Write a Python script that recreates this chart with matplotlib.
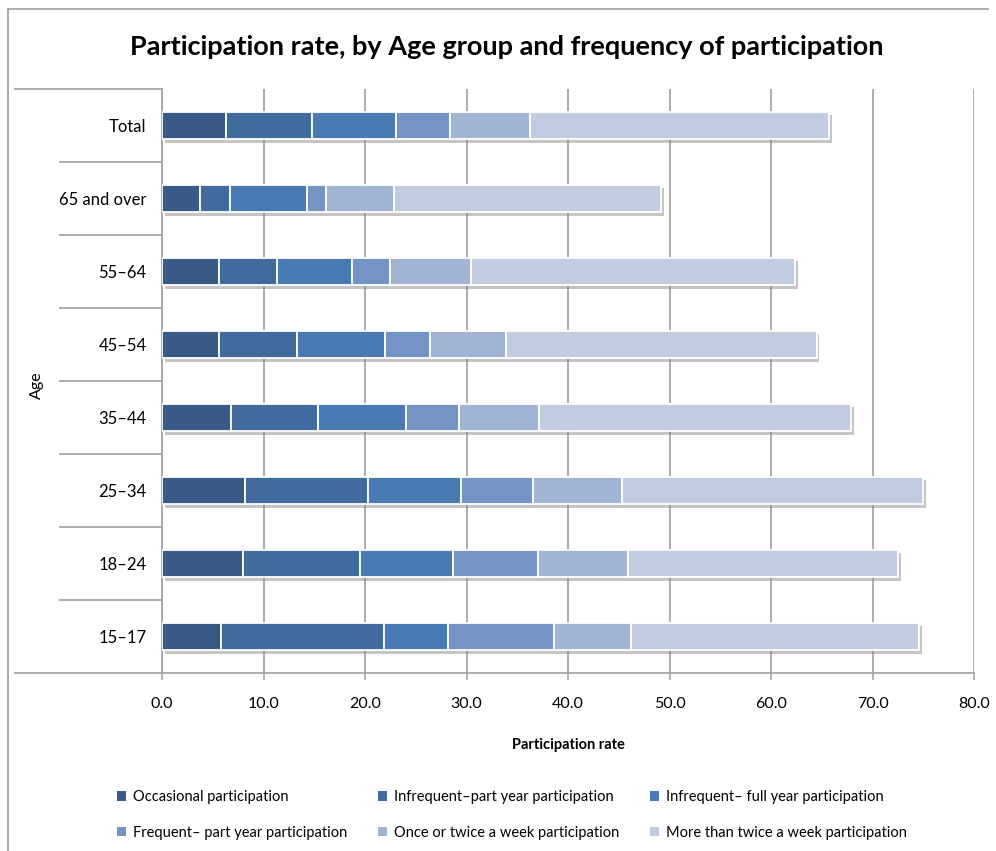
import matplotlib
matplotlib.use("Agg")
import matplotlib.pyplot as plt
import matplotlib.patheffects as pe
from matplotlib.lines import Line2D
from matplotlib.patches import Patch
import numpy as np

plt.rcParams['font.family'] = ['Lato', 'DejaVu Sans']

age_groups = ["Total", "65 and over", "55–64", "45–54", "35–44", "25–34", "18–24", "15–17"]

series_names = [
    "Occasional participation",
    "Infrequent–part year participation",
    "Infrequent– full year participation",
    "Frequent– part year participation",
    "Once or twice a week participation",
    "More than twice a week participation",
]

occasional = [6.3, 3.7, 5.6, 5.6, 6.8, 8.2, 8.0, 5.8]
infrequent_part_year = [8.5, 3.0, 5.7, 7.7, 8.6, 12.1, 11.5, 16.1]
infrequent_full_year = [8.3, 7.6, 7.4, 8.7, 8.6, 9.2, 9.2, 6.3]
frequent_part_year = [5.3, 1.9, 3.8, 4.4, 5.3, 7.1, 8.3, 10.4]
once_twice_week = [7.9, 6.7, 7.9, 7.5, 7.8, 8.7, 8.9, 7.6]
more_than_twice_week = [29.4, 26.3, 32.0, 30.6, 30.8, 29.7, 26.6, 28.4]

x_ticks = [0, 10, 20, 30, 40, 50, 60, 70, 80]

colors = ["#375A86", "#416B9E", "#4A7AB4", "#7594C6", "#A2B4D4", "#C2CCE1"]
grid_col = "#A6A6A6"

series = [occasional, infrequent_part_year, infrequent_full_year,
          frequent_part_year, once_twice_week, more_than_twice_week]

fig = plt.figure(figsize=(9.96, 8.51), dpi=100)
W, H = 996, 851
ax = fig.add_axes([162 / W, 1 - 673 / H, (974 - 162) / W, (673 - 89) / H])

ypos = np.arange(len(age_groups))
left = np.zeros(len(age_groups))
shadow = [pe.SimplePatchShadow(offset=(2, -2.5), shadow_rgbFace="#808080", alpha=0.45), pe.Normal()]
for name, vals, col in zip(series_names, series, colors):
    vals = np.array(vals)
    bars = ax.barh(ypos, vals, left=left, height=0.38, color=col,
                   edgecolor="white", linewidth=1.3, label=name, zorder=3)
    for b in bars:
        b.set_path_effects(shadow)
    left += vals

ax.set_xlim(0, 80)
ax.set_ylim(len(age_groups) - 0.5, -0.5)
ax.set_xticks(x_ticks)
ax.set_xticklabels([f"{v:.1f}" for v in x_ticks], fontsize=11.5)
ax.set_yticks(ypos)
ax.set_yticklabels(age_groups, fontsize=12)
ax.tick_params(axis="y", length=0, pad=11)
ax.tick_params(axis="x", length=5, color=grid_col, width=1.2, pad=12)
ax.grid(axis="x", color=grid_col, linewidth=1.3, zorder=0)
ax.set_axisbelow(True)
for s in ["top", "right"]:
    ax.spines[s].set_visible(False)
for s in ["left", "bottom"]:
    ax.spines[s].set_color(grid_col)
    ax.spines[s].set_linewidth(1.3)

# category separators on the label side
trans = ax.get_yaxis_transform()
for i, yb in enumerate(np.arange(-0.5, len(age_groups), 1.0)):
    x0 = -0.181 if i in (0, len(age_groups)) else -0.1256
    ax.add_line(Line2D([x0, 0], [yb, yb], transform=trans, color=grid_col,
                       linewidth=1.3, clip_on=False))

ax.set_xlabel("Participation rate", fontsize=10.5, fontweight="bold", labelpad=20)
fig.text(37 / W, 1 - 385 / H, "Age", rotation=90, ha="center", va="center", fontsize=11.5)

fig.text(507 / W, 1 - 47 / H, "Participation rate, by Age group and frequency of participation",
         ha="center", va="center", fontsize=19.5, fontweight="bold")

# chart frame
fig.add_artist(Line2D([8 / W, 8 / W], [0, 1 - 9 / H], transform=fig.transFigure,
                      color=grid_col, linewidth=1.3))
fig.add_artist(Line2D([8 / W, 988 / W], [1 - 9 / H, 1 - 9 / H], transform=fig.transFigure,
                      color=grid_col, linewidth=1.3))

handles = [Patch(facecolor=c, edgecolor="none") for c in colors]
order = [0, 3, 1, 4, 2, 5]
fig.legend([handles[i] for i in order], [series_names[i] for i in order],
           ncol=3, loc="center", bbox_to_anchor=(512 / W, 1 - 815 / H), frameon=False,
           fontsize=10.5, handlelength=0.6, handleheight=0.6, handletextpad=0.5,
           columnspacing=2.1, labelspacing=1.5)

fig.savefig("out.png", dpi=100)
